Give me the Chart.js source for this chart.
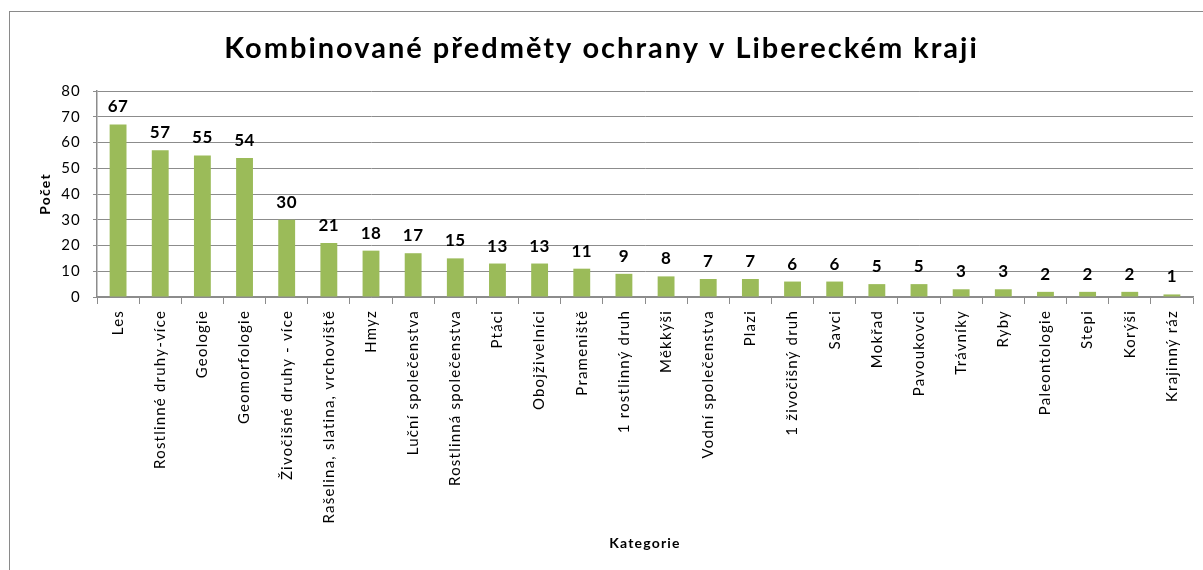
<!DOCTYPE html>
<html>
<head>
<meta charset="utf-8">
<script src="https://cdn.jsdelivr.net/npm/chart.js@4"></script>
<style>
  html, body { margin: 0; padding: 0; background: #fff; }
  canvas { display: block; }
</style>
</head>
<body>
<canvas id="chart" width="1203" height="570"></canvas>
<script>
// Data
const chartTitle = 'Kombinované předměty ochrany v Libereckém kraji';
const categories = [
  'Les', 'Rostlinné druhy-více', 'Geologie', 'Geomorfologie', 'Živočišné druhy - více',
  'Rašelina, slatina, vrchoviště', 'Hmyz', 'Luční společenstva', 'Rostlinná společenstva',
  'Ptáci', 'Obojživelníci', 'Prameniště', '1 rostlinný druh', 'Měkkýši', 'Vodní společenstva',
  'Plazi', '1 živočišný druh', 'Savci', 'Mokřad', 'Pavoukovci', 'Trávníky', 'Ryby',
  'Paleontologie', 'Stepi', 'Korýši', 'Krajinný ráz'
];
const counts = [67, 57, 55, 54, 30, 21, 18, 17, 15, 13, 13, 11, 9, 8, 7, 7, 6, 6, 5, 5, 3, 3, 2, 2, 2, 1];
const yTicks = [0, 10, 20, 30, 40, 50, 60, 70, 80];

const FONT = 'Lato, Carlito, "Open Sans", sans-serif';
const GRID = '#8c8c8c';

// Outer frame + wider letter spacing (Excel-like rendering)
const frame = {
  id: 'frame',
  beforeDraw(chart) {
    const {ctx} = chart;
    ctx.save();
    ctx.fillStyle = '#fff';
    ctx.fillRect(0, 0, chart.width, chart.height);
    ctx.strokeStyle = '#8a8a8a';
    ctx.lineWidth = 1;
    ctx.strokeRect(9.5, 11.5, 1400, 800);
    ctx.restore();
    ctx.letterSpacing = '1.2px';
  },
  afterDraw(chart) {
    const {ctx} = chart;
    ctx.save();
    ctx.letterSpacing = '2px';
    ctx.font = 'bold 29px ' + FONT;
    ctx.fillStyle = '#000';
    ctx.textAlign = 'center';
    ctx.textBaseline = 'alphabetic';
    ctx.fillText(chartTitle, chart.width / 2, 58);
    ctx.restore();
    ctx.letterSpacing = '0px';
  }
};

// Value labels on top of bars
const valueLabels = {
  id: 'valueLabels',
  afterDatasetsDraw(chart) {
    const {ctx} = chart;
    const meta = chart.getDatasetMeta(0);
    ctx.save();
    ctx.letterSpacing = '0.5px';
    ctx.font = 'bold 17px ' + FONT;
    ctx.fillStyle = '#000';
    ctx.textAlign = 'center';
    ctx.textBaseline = 'alphabetic';
    meta.data.forEach((bar, i) => {
      ctx.fillText(String(counts[i]), bar.x, bar.y - 12);
    });
    ctx.restore();
  }
};

new Chart(document.getElementById('chart').getContext('2d'), {
  type: 'bar',
  plugins: [frame, valueLabels],
  data: {
    labels: categories,
    datasets: [{
      label: 'Počet',
      data: counts,
      backgroundColor: '#9bbb59',
      borderWidth: 0,
      categoryPercentage: 1,
      barPercentage: 0.4
    }]
  },
  options: {
    responsive: false,
    animation: false,
    layout: { padding: { left: 0, right: 10, top: 91, bottom: 0 } },
    plugins: {
      legend: { display: false },
      tooltip: { enabled: false },
      title: { display: false }
    },
    scales: {
      x: {
        offset: true,
        grid: {
          offset: true,
          drawOnChartArea: false,
          drawTicks: true,
          tickLength: 7,
          color: GRID
        },
        border: { color: GRID, width: 1.5 },
        ticks: {
          autoSkip: false,
          maxRotation: 90,
          minRotation: 90,
          padding: 6,
          color: '#000',
          font: { family: FONT, size: 15 }
        },
        title: {
          display: true,
          text: 'Kategorie',
          color: '#000',
          font: { family: FONT, size: 14, weight: 'bold', lineHeight: 1.2 },
          padding: { top: 0, bottom: 18 }
        },
        afterFit(scale) { scale.height = 273; }
      },
      y: {
        min: 0,
        max: 80,
        afterBuildTicks(scale) { scale.ticks = yTicks.map(v => ({ value: v })); },
        grid: {
          color: GRID,
          lineWidth: 1,
          tickLength: 4
        },
        border: { color: GRID, width: 1.5 },
        ticks: {
          padding: 12,
          color: '#000',
          font: { family: FONT, size: 15 }
        },
        title: {
          display: true,
          text: 'Počet',
          color: '#000',
          font: { family: FONT, size: 14, weight: 'bold', lineHeight: 1.2 },
          padding: { top: 37, bottom: 0 }
        },
        afterFit(scale) { scale.width = 97; }
      }
    }
  }
});
</script>
</body>
</html>
